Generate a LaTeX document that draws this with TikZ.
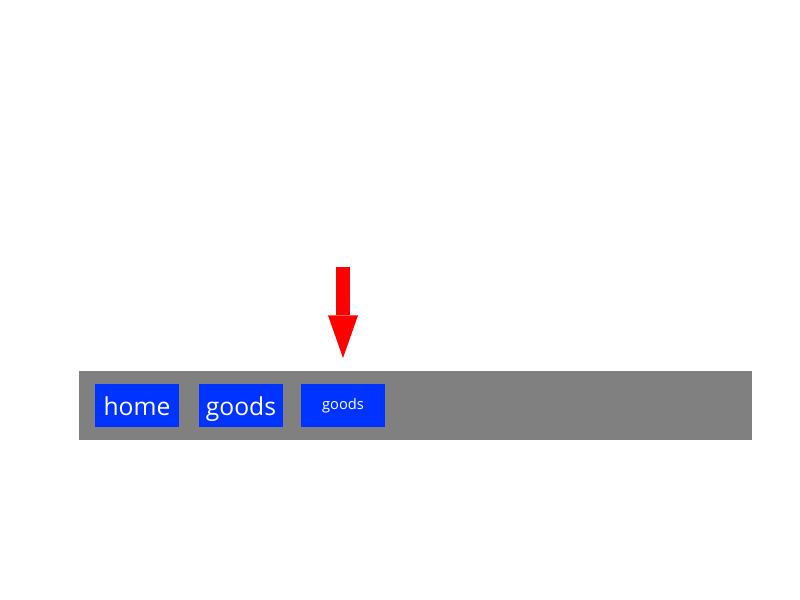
\documentclass[tikz,border=0pt]{standalone}
\usepackage{fontspec}
\setmainfont{Open Sans}
\usetikzlibrary{arrows.meta}
\definecolor{navblue}{RGB}{0,51,255}
\definecolor{navgray}{RGB}{128,128,128}
\begin{document}
\begin{tikzpicture}[x=0.75pt, y=-0.75pt]
		\tikzset{tab/.style={fill=navblue, text=white, minimum width=63pt, minimum height=32pt, inner sep=0pt, text depth=0pt}};
		\tikzset{pointer/.style={draw=red, line width=10.5pt, -{Triangle[width=22.5pt, length=32pt, line width=0pt]}}};

		\useasboundingbox (0, 0) rectangle (800, 600);

		\node[fill=navgray, minimum width=504.75pt, minimum height=52pt, inner sep=0pt] (bar) at (415.5, 405.75) {};

		\node[tab, text height=15pt, font=\fontsize{18.5}{21}\selectfont] (home) at (137, 405.3) {home};
		\node[tab, text height=15pt, font=\fontsize{18.5}{21}\selectfont] (goods) at (241, 405.3) {goods};
		\node[tab, text height=7pt, font=\fontsize{11}{13}\selectfont] (goodsnew) at (343, 405.3) {goods};

		\coordinate (top) at (343, 267);
		\coordinate (tip) at (343, 358);

		\draw[pointer] (top) to (tip);

	\end{tikzpicture}
\end{document}
